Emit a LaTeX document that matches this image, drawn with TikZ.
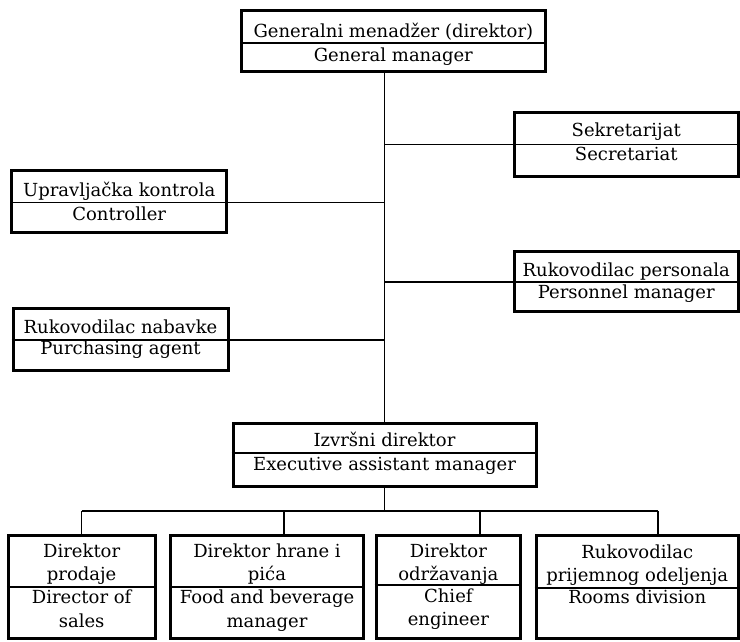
\documentclass[tikz,border=0pt]{standalone}
\usepackage{fontspec}
\setmainfont{DejaVu Serif}
\begin{document}
\begin{tikzpicture}[x=1pt,y=-1pt,
  box/.style={draw,line width=3pt,inner sep=0pt,rectangle},
  divider/.style={line width=1.6pt},
  link/.style={line width=1.6pt},
  lbl/.style={anchor=base,inner sep=0pt,font=\fontsize{18}{22}\selectfont}]
\useasboundingbox (0,0) rectangle (740,641);

% boxes
\node[box,minimum width=303.3pt,minimum height=61.7pt] (gm)   at (393.35,40.85) {};
\node[box,minimum width=224.5pt,minimum height=63.3pt] (sec)  at (626.25,144.35) {};
\node[box,minimum width=215pt,minimum height=62.7pt]   (upr)  at (119.2,201.35) {};
\node[box,minimum width=224.5pt,minimum height=59.3pt] (per)  at (626.25,281.35) {};
\node[box,minimum width=215pt,minimum height=62.7pt]   (nab)  at (120.5,339.35) {};
\node[box,minimum width=303pt,minimum height=63.7pt]   (exec) at (384.5,454.85) {};
\node[box,minimum width=146.7pt,minimum height=103.5pt] (b1) at (81.65,586.75) {};
\node[box,minimum width=192.6pt,minimum height=103.5pt] (b2) at (267,586.75) {};
\node[box,minimum width=144.7pt,minimum height=103.5pt] (b3) at (448.35,586.75) {};
\node[box,minimum width=202.5pt,minimum height=103pt]   (b4) at (637.25,586.5) {};

% row dividers
\draw[divider] (gm.west |- 0,42.7)  -- (gm.east |- 0,42.7);
\draw[divider] (sec.west |- 0,144.3) -- (sec.east |- 0,144.3);
\draw[divider] (upr.west |- 0,202.3) -- (upr.east |- 0,202.3);
\draw[divider] (per.west |- 0,281.7) -- (per.east |- 0,281.7);
\draw[divider] (nab.west |- 0,340)   -- (nab.east |- 0,340);
\draw[divider] (exec.west |- 0,452.7) -- (exec.east |- 0,452.7);
\draw[divider] (b1.west |- 0,586.7) -- (b1.east |- 0,586.7);
\draw[divider] (b2.west |- 0,586.7) -- (b2.east |- 0,586.7);
\draw[divider] (b3.west |- 0,585)   -- (b3.east |- 0,585);
\draw[divider] (b4.west |- 0,588)   -- (b4.east |- 0,588);

% texts
\node[lbl] (gm1) at (393.35,37.7) {Generalni menadžer (direktor)};
\node[lbl] (gm2) at (393.35,61) {General manager};
\node[lbl] (sec1) at (626.25,136) {Sekretarijat};
\node[lbl] (sec2) at (626.25,160) {Secretariat};
\node[lbl] (upr1) at (119.2,196) {Upravljačka kontrola};
\node[lbl] (upr2) at (119.2,220) {Controller};
\node[lbl] (per1) at (626.25,276) {Rukovodilac personala};
\node[lbl] (per2) at (626.25,298.3) {Personnel manager};
\node[lbl] (nab1) at (120.5,333.3) {Rukovodilac nabavke};
\node[lbl] (nab2) at (120.5,354.3) {Purchasing agent};
\node[lbl] (ex1) at (384.5,446.7) {Izvršni direktor};
\node[lbl] (ex2) at (384.5,470) {Executive assistant manager};
\node[lbl] (b1a) at (81.65,557) {Direktor};
\node[lbl] (b1b) at (81.65,580) {prodaje};
\node[lbl] (b1c) at (81.65,603) {Director of};
\node[lbl] (b1d) at (81.65,627) {sales};
\node[lbl] (b2a) at (267,557) {Direktor hrane i};
\node[lbl] (b2b) at (267,580) {pića};
\node[lbl] (b2c) at (267,603) {Food and beverage};
\node[lbl] (b2d) at (267,627) {manager};
\node[lbl] (b3a) at (448.35,557) {Direktor};
\node[lbl] (b3b) at (448.35,580) {održavanja};
\node[lbl] (b3c) at (448.35,602) {Chief};
\node[lbl] (b3d) at (448.35,625) {engineer};
\node[lbl] (b4a) at (637.25,558) {Rukovodilac};
\node[lbl] (b4b) at (637.25,581.7) {prijemnog odeljenja};
\node[lbl] (b4c) at (637.25,603) {Rooms division};

% connectors
\draw[link] (gm.south -| exec.north) -- (exec.north);
\draw[link] (sec.west |- 0,144.3) -- (exec.north |- 0,144.3);
\draw[link] (upr.east |- 0,202.3) -- (exec.north |- 0,202.3);
\draw[link] (per.west |- 0,281.7) -- (exec.north |- 0,281.7);
\draw[link] (nab.east |- 0,340) -- (exec.north |- 0,340);

\coordinate (busL) at (81.65,511);
\coordinate (d2) at (284,511);
\coordinate (d3) at (480,511);
\coordinate (busR) at (657.7,511);
\draw[link] (exec.south) -- (exec.south |- busL);
\draw[link] (busL) -- (busR);
\draw[link] (busL) -- (b1.north);
\draw[link] (d2) -- (d2 |- b2.north);
\draw[link] (d3) -- (d3 |- b3.north);
\draw[link] (busR) -- (busR |- b4.north);
\end{tikzpicture}
\end{document}
